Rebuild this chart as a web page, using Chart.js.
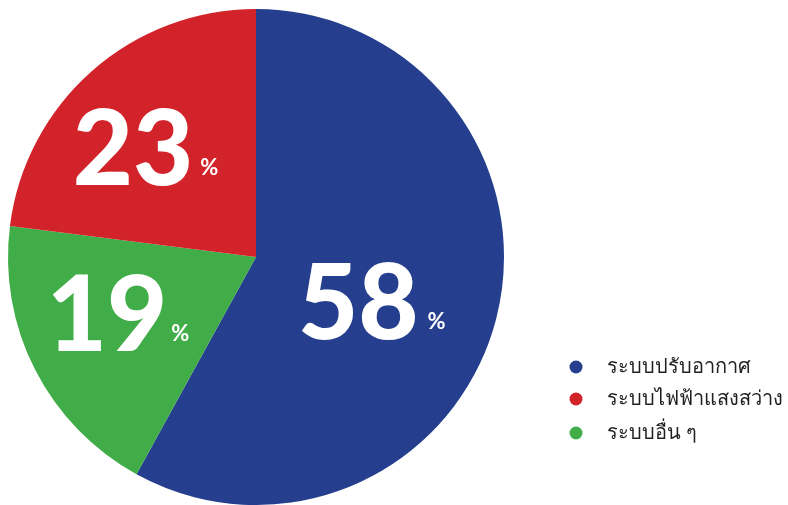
<!DOCTYPE html>
<html>
<head>
<meta charset="utf-8">
<script src="https://cdn.jsdelivr.net/npm/chart.js@4"></script>
<style>
  html, body { margin: 0; padding: 0; background: #fff; }
  #pieChart { display: block; }
</style>
</head>
<body>
<canvas id="pieChart" width="788" height="505"></canvas>
<script>
const categories = ['ระบบปรับอากาศ', 'ระบบไฟฟ้าแสงสว่าง', 'ระบบอื่น ๆ'];
const shares = [58, 23, 19];
const colors = ['#253f8e', '#d2232a', '#41ad49'];

// slice draw order clockwise from 12 o'clock: blue, green, red
const drawOrder = [0, 2, 1];

// where each big number sits: angle (deg, canvas) and distance as part of radius
const labelSpots = {
  0: { angle: 21, dist: 0.50, gap: 9 },
  1: { angle: 225, dist: 0.63, gap: 7 },
  2: { angle: 158, dist: 0.60, gap: 4 }
};

const bigLabels = {
  id: 'bigLabels',
  afterDatasetsDraw(chart) {
    const ctx = chart.ctx;
    const meta = chart.getDatasetMeta(0);
    meta.data.forEach((arc, i) => {
      const catIdx = drawOrder[i];
      const spot = labelSpots[catIdx];
      const a = spot.angle * Math.PI / 180;
      const cx = arc.x + Math.cos(a) * arc.outerRadius * spot.dist;
      const cy = arc.y + Math.sin(a) * arc.outerRadius * spot.dist;
      const num = String(shares[catIdx]);
      ctx.save();
      ctx.fillStyle = '#fff';
      ctx.textBaseline = 'alphabetic';
      ctx.font = '900 104px Lato';
      const nw = ctx.measureText(num).width;
      ctx.font = '700 22px Lato';
      const pw = ctx.measureText('%').width;
      const left = cx - (nw + spot.gap + pw) / 2;
      const base = cy + 38;
      ctx.font = '900 104px Lato';
      ctx.textAlign = 'left';
      ctx.fillText(num, left, base);
      ctx.font = '700 22px Lato';
      ctx.fillText('%', left + nw + spot.gap, base - 10);
      ctx.restore();
    });
  }
};

const sideLegend = {
  id: 'sideLegend',
  afterDraw(chart) {
    const ctx = chart.ctx;
    const rows = [367, 399, 433];
    ctx.save();
    categories.forEach((name, i) => {
      ctx.fillStyle = colors[i];
      ctx.beginPath();
      ctx.arc(576, rows[i], 6.5, 0, Math.PI * 2);
      ctx.fill();
      ctx.fillStyle = '#231f20';
      ctx.font = '500 20px "Noto Sans", sans-serif';
      ctx.textBaseline = 'middle';
      ctx.textAlign = 'left';
      ctx.fillText(name, 607, rows[i]);
    });
    ctx.restore();
  }
};

const canvas = document.getElementById('pieChart');
new Chart(canvas.getContext('2d'), {
  type: 'pie',
  data: {
    labels: drawOrder.map(i => categories[i]),
    datasets: [{
      data: drawOrder.map(i => shares[i]),
      backgroundColor: drawOrder.map(i => colors[i]),
      borderWidth: 0
    }]
  },
  options: {
    responsive: false,
    animation: false,
    layout: { padding: { left: 8, top: 9, right: 284, bottom: 0 } },
    plugins: {
      legend: { display: false },
      tooltip: { enabled: false }
    }
  },
  plugins: [bigLabels, sideLegend]
});
</script>
</body>
</html>
